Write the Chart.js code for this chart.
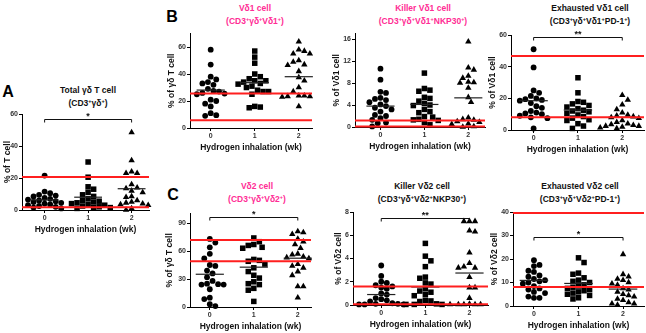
<!DOCTYPE html>
<html>
<head>
<meta charset="utf-8">
<script src="https://cdn.jsdelivr.net/npm/chart.js@4.4.1/dist/chart.umd.min.js"></script>
<style>
  body { margin: 0; background: #fff; }
  #fig { position: relative; width: 646px; height: 333px; overflow: hidden; background: #fff;
         font-family: 'Liberation Sans', Arial, sans-serif; font-weight: bold; }
  #fig canvas { position: absolute; }
  .ttl { position: absolute; transform: translate(-50%, -50%); white-space: nowrap; font-size: 8.5px; line-height: 1; color: #111; }
  .pink { color: #ff2d95; }
  .ttl sup { font-size: 5.5px; vertical-align: 3px; line-height: 0; }
  .lett { position: absolute; transform: translate(-50%, -50%); font-size: 16px; color: #000; }
</style>
</head>
<body>
<div id="fig"></div>
<script>
// week categories on the x axis
const weeks = [0, 1, 2];
const weekLabels = ['0', '1', '2'];

// A: total gd T cell (% of T cell)
const totalW0 = [21.5, 11.5, 10.5, 9.5, 9, 8.5, 7.5, 7, 6.5, 6, 5.5, 5, 4.5, 4, 3.5, 3, 2.5, 2, 1.5, 1];
const totalW1 = [30, 20.5, 14.5, 13, 11, 9.5, 8.5, 7, 6, 5.5, 5, 4.5, 4, 3.5, 3, 2.5, 2, 1.5, 1.5, 1];
const totalW2 = [48.5, 31, 24, 23, 23, 16, 14, 13.5, 12, 11, 8.5, 8, 6, 5, 4.5, 4, 3.5, 3, 1, 0];
const totalMeans = [6.3, 8, 13.3];
const totalRef = [20.7, 1.7];
const totalTicks = [0, 20, 40, 60];

// B1: Vd1 cell (% of gd T cell)
const vd1W0 = [58, 47, 38, 36, 34, 33, 32, 29, 27.5, 27, 26, 25.5, 25, 21, 20, 18, 16, 11, 9.5, 9];
const vd1W1 = [57, 52.5, 48, 40, 38, 36.5, 35, 35, 34, 33, 32.5, 31, 30, 28, 27, 27, 25, 16, 15.5, 15];
const vd1W2 = [64, 58, 57, 55, 55, 50, 49, 47, 46.5, 42, 37.5, 35, 30, 27, 24, 24, 23.5, 23.5, 23, 16];
const vd1Means = [28.1, 33.6, 38];
const vd1Ref = [25.6, 5.7];
const vd1Ticks = [0, 20, 40, 60];

// B2: killer Vd1 cell (% of Vd1 cell)
const kVd1W0 = [10.6, 8.6, 6.4, 6.2, 5.3, 5.1, 4.9, 4.5, 4.1, 3.8, 3.5, 3.2, 2.8, 2.2, 2.0, 1.6, 1.3, 0.8, 0.7, 0.1];
const kVd1W1 = [9.8, 7.0, 6.7, 6.5, 5.4, 5.2, 4.7, 4.3, 4.0, 3.9, 3.2, 2.8, 2.6, 1.9, 1.8, 1.4, 1.3, 1.2, 0.8, 0.4];
const kVd1W2 = [15.5, 10.8, 10.4, 9.3, 8.9, 8.2, 8.1, 8.0, 7.1, 5.4, 4.5, 1.7, 1.4, 1.3, 1.0, 0.9, 0.6, 0.5, 0.1, 0.0];
const kVd1Means = [3.8, 4.1, 5.3];
const kVd1Ref = [1.2, 0.1];
const kVd1Ticks = [0, 4, 8, 12, 16];

// B3: exhausted Vd1 cell (% of Vd1 cell)
const eVd1W0 = [51, 39.5, 25, 23.5, 21.5, 20, 19.5, 19, 18.5, 17, 15, 14, 12, 11, 10.5, 10, 9, 8, 7.5, 1];
const eVd1W1 = [33, 23.5, 18, 17.5, 16.5, 15.5, 14.5, 13.5, 12.5, 12, 11.5, 10.5, 9.5, 8.5, 7.5, 6.5, 6, 4, 2.5, 1];
const eVd1W2 = [22, 19, 16, 13, 11, 9.5, 9, 8.5, 8, 7.5, 6, 5, 4, 3.5, 3, 2.5, 2.5, 2, 1.5, 1];
const eVd1Means = [18.5, 12.6, 8];
const eVd1Ref = [46.7, 8.0];
const eVd1Ticks = [0, 20, 40, 60];

// C1: Vd2 cell (% of gd T cell)
const vd2W0 = [73, 69, 64, 57, 52, 45, 44, 39, 36, 32, 28, 25, 24.5, 24, 24, 19, 10, 8.5, 3, 1];
const vd2W1 = [74, 70, 67, 66, 64, 63, 51, 50, 49, 46, 42, 38, 34, 31, 27, 25, 24, 20, 18, 6];
const vd2W2 = [81, 80, 78, 73, 70, 67, 63, 57, 56, 54, 53, 52, 46, 44, 42, 38, 34, 22, 22, 10];
const vd2Means = [35.1, 42.7, 52.3];
const vd2Ref = [71.7, 49.1];
const vd2Ticks = [0, 30, 60, 90];

// C2: killer Vd2 cell (% of Vd2 cell)
const kVd2W0 = [3.4, 2.5, 2.0, 1.9, 1.7, 1.6, 1.5, 1.4, 1.0, 0.9, 0.6, 0.5, 0.4, 0.3, 0.15, 0.1, 0.1, 0.05, 0.05, 0.05];
const kVd2W1 = [5.3, 4.2, 3.8, 3.3, 2.4, 2.3, 1.9, 1.8, 1.4, 1.2, 1.1, 0.9, 0.8, 0.4, 0.35, 0.3, 0.1, 0.05, 0.05, 0.05];
const kVd2W2 = [7.2, 7.2, 7.2, 6.4, 6.3, 4.5, 3.6, 3.3, 3.2, 3.2, 2.4, 1.5, 1.5, 0.6, 0.1, 0.05, 0.05, 0.05, 0.05, 0.05];
const kVd2Means = [0.9, 1.55, 2.75];
const kVd2Ref = [1.6, 0.06];
const kVd2Ticks = [0, 2, 4, 6, 8];

// C3: exhausted Vd2 cell (% of Vd2 cell)
const eVd2W0 = [19.5, 17.5, 17, 15, 14.5, 13, 12.5, 11.5, 11, 10.5, 10, 9.5, 8.5, 7.5, 7, 6, 5.5, 4, 3.5, 3.5];
const eVd2W1 = [20.5, 18.5, 14, 13.5, 12, 11, 10.5, 10, 9, 8.5, 8, 7.5, 7, 6.5, 6, 5.5, 5, 4.5, 3.5, 3];
const eVd2W2 = [22, 13.5, 12.5, 11.5, 11, 10, 9.5, 9, 7.5, 7, 6, 5, 4.5, 4, 3, 2.5, 1.5, 1, 1, 0.5];
const eVd2Means = [10.9, 9.6, 7.2];
const eVd2Ref = [39.6, 8.1];
const eVd2Ticks = [0, 10, 20, 30, 40];

// significance brackets (week 0 vs week 2): [y value, label]
const totalSig = [57, '*'];
const eVd1Sig = [59, '**'];
const vd2Sig = [96, '*'];
const kVd2Sig = [7.5, '**'];
const eVd2Sig = [29.3, '*'];

const panels = [
  { groups: [totalW0, totalW1, totalW2], means: totalMeans, ref: totalRef, ticks: totalTicks, yMax: 60, yTitle: '% of T cell', sig: totalSig,
    geo: { axisX: 22, titleX: 8, yTop: 114, y0: 210, catPx: 44, xMin: -0.52, xMax: 2.4 } },
  { groups: [vd1W0, vd1W1, vd1W2], means: vd1Means, ref: vd1Ref, ticks: vd1Ticks, yMax: 70, yTitle: '% of γδ T cell', sig: null,
    geo: { axisX: 190, titleX: 172, yTop: 33.5, y0: 128, catPx: 44.5, xMin: -0.47, xMax: 2.3 } },
  { groups: [kVd1W0, kVd1W1, kVd1W2], means: kVd1Means, ref: kVd1Ref, ticks: kVd1Ticks, yMax: 17, yTitle: '% of Vδ1 cell', sig: null,
    geo: { axisX: 355, titleX: 337, yTop: 33.5, y0: 127, catPx: 44.5, xMin: -0.58, xMax: 2.38 } },
  { groups: [eVd1W0, eVd1W1, eVd1W2], means: eVd1Means, ref: eVd1Ref, ticks: eVd1Ticks, yMax: 60, yTitle: '% of Vδ1 cell', sig: eVd1Sig,
    geo: { axisX: 511, titleX: 493, yTop: 35, y0: 130, catPx: 45, xMin: -0.51, xMax: 2.49 } },
  { groups: [vd2W0, vd2W1, vd2W2], means: vd2Means, ref: vd2Ref, ticks: vd2Ticks, yMax: 100, yTitle: '% of γδ T cell', sig: vd2Sig,
    geo: { axisX: 190, titleX: 170, yTop: 213.7, y0: 307, catPx: 44.5, xMin: -0.45, xMax: 2.3 } },
  { groups: [kVd2W0, kVd2W1, kVd2W2], means: kVd2Means, ref: kVd2Ref, ticks: kVd2Ticks, yMax: 8, yTitle: '% of Vδ2 cell', sig: kVd2Sig,
    geo: { axisX: 353, titleX: 339, yTop: 212, y0: 305, catPx: 44.5, xMin: -0.64, xMax: 2.42 } },
  { groups: [eVd2W0, eVd2W1, eVd2W2], means: eVd2Means, ref: eVd2Ref, ticks: eVd2Ticks, yMax: 40, yTitle: '% of Vδ2 cell', sig: eVd2Sig,
    geo: { axisX: 513, titleX: 495, yTop: 212, y0: 306, catPx: 45, xMin: -0.47, xMax: 2.47 } }
];

// panel titles and letters (html text)
const titles = [
  ['Total γδ T cell', '(CD3<sup>+</sup>γδ<sup>+</sup>)', 88, 90, false],
  ['Vδ1 cell', '(CD3<sup>+</sup>γδ<sup>+</sup>Vδ1<sup>+</sup>)', 255, 8, true],
  ['Killer Vδ1 cell', '(CD3<sup>+</sup>γδ<sup>+</sup>Vδ1<sup>+</sup>NKP30<sup>+</sup>)', 423, 8, true],
  ['Exhausted Vδ1 cell', '(CD3<sup>+</sup>γδ<sup>+</sup>Vδ1<sup>+</sup>PD-1<sup>+</sup>)', 590, 8, false],
  ['Vδ2 cell', '(CD3<sup>+</sup>γδ<sup>+</sup>Vδ2<sup>+</sup>)', 257, 186, true],
  ['Killer Vδ2 cell', '(CD3<sup>+</sup>γδ<sup>+</sup>Vδ2<sup>+</sup>NKP30<sup>+</sup>)', 422, 186, false],
  ['Exhausted Vδ2 cell', '(CD3<sup>+</sup>γδ<sup>+</sup>Vδ2<sup>+</sup>PD-1<sup>+</sup>)', 580, 186, false]
];
const letters = [['A', 8, 92], ['B', 172, 17], ['C', 173, 195]];

const fig = document.getElementById('fig');
titles.forEach(t => {
  [t[0], t[1]].forEach((txt, i) => {
    const d = document.createElement('div');
    d.className = 'ttl' + (t[4] ? ' pink' : '');
    d.style.left = t[2] + 'px';
    d.style.top = (t[3] + i * 13) + 'px';
    d.innerHTML = txt;
    fig.appendChild(d);
  });
});
letters.forEach(l => {
  const d = document.createElement('div');
  d.className = 'lett';
  d.style.left = l[1] + 'px';
  d.style.top = l[2] + 'px';
  d.textContent = l[0];
  fig.appendChild(d);
});

Chart.defaults.font.family = "'Liberation Sans', Arial, sans-serif";
Chart.defaults.font.weight = 'bold';
Chart.defaults.color = '#222';

// spread points sideways so they don't overlap (column scatter layout)
function swarm(values, pxPerUnit, catPx) {
  const d = 5.6;
  const order = values.map((v, i) => i).sort((a, b) => values[b] - values[a]);
  const placed = [];
  const off = new Array(values.length).fill(0);
  let flip = 1;
  order.forEach(i => {
    const vy = values[i] * pxPerUnit;
    for (let k = 0; k < 60; k++) {
      const step = Math.ceil(k / 2) * d / 2 * (k % 2 ? flip : -flip);
      if (placed.every(p => (p.x - step) ** 2 + (p.y - vy) ** 2 >= d * d)) {
        off[i] = step / catPx;
        placed.push({ x: step, y: vy });
        if (step !== 0) flip = -flip;
        break;
      }
    }
  });
  return off;
}

// red reference lines, mean bars and significance brackets
const decor = {
  id: 'decor',
  afterDatasetsDraw(chart, args, opts) {
    const { ctx, chartArea: a, scales: { x, y } } = chart;
    ctx.save();
    ctx.strokeStyle = '#222';
    ctx.lineWidth = 1.2;
    opts.means.forEach((m, g) => {
      const py = y.getPixelForValue(m);
      ctx.beginPath();
      ctx.moveTo(x.getPixelForValue(g - 0.32), py);
      ctx.lineTo(x.getPixelForValue(g + 0.32), py);
      ctx.stroke();
    });
    if (opts.sig) {
      const py = Math.round(y.getPixelForValue(opts.sig[0])) + 0.5;
      const x0 = x.getPixelForValue(weeks[0]), x2 = x.getPixelForValue(weeks[2]);
      ctx.lineWidth = 1;
      ctx.strokeStyle = '#111';
      ctx.beginPath();
      ctx.moveTo(x0, py + 3); ctx.lineTo(x0, py); ctx.lineTo(x2, py); ctx.lineTo(x2, py + 3);
      ctx.stroke();
      ctx.fillStyle = '#111';
      ctx.font = "bold 9px 'Liberation Sans', Arial, sans-serif";
      ctx.textAlign = 'center';
      ctx.textBaseline = 'alphabetic';
      ctx.fillText(opts.sig[1], (x0 + x2) / 2, py - 1);
    }
    ctx.strokeStyle = '#ff1f1f';
    ctx.lineWidth = 2;
    opts.ref.forEach(r => {
      const py = y.getPixelForValue(r);
      ctx.beginPath();
      ctx.moveTo(a.left, py);
      ctx.lineTo(a.right, py);
      ctx.stroke();
    });
    ctx.restore();
  }
};

const shapes = ['circle', 'rect', 'triangle'];
const radii = [2.9, 3.9, 3.7];

panels.forEach(p => {
  const g = p.geo;
  const plotH = g.y0 - g.yTop;
  const plotW = (g.xMax - g.xMin) * g.catPx;
  const padTop = 14;
  const yW0 = g.axisX - g.titleX + 5.1;
  const left = Math.round(g.axisX - yW0);
  const yW = g.axisX - left;
  const top = Math.round(g.yTop - padTop);
  const padT = g.yTop - top;
  const height = Math.round(padT + plotH + 25);
  const xH = height - padT - plotH;
  const width = Math.ceil(yW + plotW + 2);
  const padR = width - yW - plotW;

  const cv = document.createElement('canvas');
  cv.width = width; cv.height = height;
  cv.style.left = left + 'px'; cv.style.top = top + 'px';
  cv.style.width = width + 'px'; cv.style.height = height + 'px';
  fig.appendChild(cv);

  const pxPerUnit = plotH / p.yMax;
  const datasets = p.groups.map((vals, gi) => {
    const off = swarm(vals, pxPerUnit, g.catPx);
    return {
      data: vals.map((v, i) => ({ x: weeks[gi] + off[i], y: v })),
      pointStyle: shapes[gi],
      pointRadius: radii[gi],
      backgroundColor: '#000',
      borderColor: '#000',
      borderWidth: 0,
      clip: false
    };
  });

  new Chart(cv, {
    type: 'scatter',
    data: { datasets },
    options: {
      responsive: false,
      animation: false,
      events: [],
      layout: { padding: { top: padT, right: padR, left: 0, bottom: 0 } },
      plugins: {
        legend: { display: false },
        tooltip: { enabled: false },
        decor: { means: p.means, ref: p.ref, sig: p.sig }
      },
      scales: {
        x: {
          type: 'linear', min: g.xMin, max: g.xMax,
          afterBuildTicks: s => { s.ticks = weeks.map(v => ({ value: v })); },
          afterFit: s => { s.height = xH; },
          ticks: { callback: v => weekLabels[weeks.indexOf(v)], font: { size: 7 }, padding: 1, maxRotation: 0, color: '#333' },
          grid: { drawOnChartArea: false, tickLength: 3, color: '#000' },
          border: { color: '#000', width: 1 },
          title: { display: true, text: 'Hydrogen inhalation (wk)', font: { size: 8.5 }, padding: 0, color: '#111' }
        },
        y: {
          min: 0, max: p.yMax,
          afterBuildTicks: s => { s.ticks = p.ticks.map(v => ({ value: v })); },
          afterFit: s => { s.width = yW; },
          ticks: { callback: v => String(v), font: { size: 7 }, padding: 1, color: '#333' },
          grid: { drawOnChartArea: false, tickLength: 3, color: '#000' },
          border: { color: '#000', width: 1 },
          title: { display: true, text: p.yTitle, font: { size: 8.5 }, padding: 0, color: '#111' }
        }
      }
    },
    plugins: [decor]
  });
});
</script>
</body>
</html>
